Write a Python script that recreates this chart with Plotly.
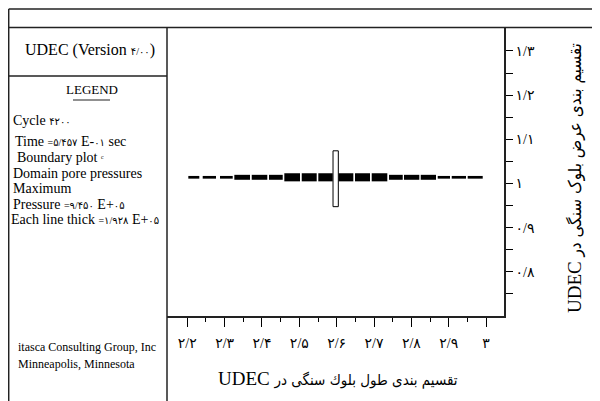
import plotly.graph_objects as go

# ---------------- data ----------------
# joint segments along the block (x start / x end), pore pressure (x1e5)
seg_x0 = [2.2027, 2.2412, 2.2876, 2.3259, 2.3725, 2.4188, 2.4598, 2.5064, 2.5508,
          2.6044, 2.6491, 2.6938, 2.7402, 2.7803, 2.8251, 2.8706, 2.9081, 2.9509]
seg_x1 = [2.2321, 2.2769, 2.3216, 2.3679, 2.4142, 2.4555, 2.5018, 2.5465, 2.5894,
          2.6446, 2.6893, 2.7356, 2.7769, 2.8213, 2.8660, 2.9035, 2.9464, 2.9911]
seg_pressure = [3.0, 3.0, 3.0, 5.5, 5.5, 5.5, 9.0, 9.0, 9.0,
                9.0, 9.0, 9.0, 5.5, 5.5, 5.5, 3.0, 3.0, 3.0]
joint_y = 1.014

# boundary box (x0, x1, y0, y1)
box_x = [2.5902, 2.6044]
box_y = [0.9475, 1.074]

x_tickvals = [2.2, 2.3, 2.4, 2.5, 2.6, 2.7, 2.8, 2.9, 3.0]
x_ticktext = ["۲/۲", "۲/۳", "۲/۴", "۲/۵", "۲/۶", "۲/۷", "۲/۸", "۲/۹", "۳"]
x_minor = [2.25, 2.35, 2.45, 2.55, 2.65, 2.75, 2.85, 2.95]
y_tickvals = [0.8, 0.9, 1.0, 1.1, 1.2, 1.3]
y_ticktext = ["۰/۸", "۰/۹", "۱", "۱/۱", "۱/۲", "۱/۳"]
y_minor = [0.75, 0.85, 0.95, 1.05, 1.15, 1.25]

x_title_fa = "تقسیم بندی طول بلوك سنگی در"
y_title_fa = "تقسیم بندی عرض بلوک سنگی در"
title_en = "UDEC"

# ---------------- layout geometry ----------------
OFF = 8                      # page offset of the figure in the window
W, H = 600 - OFF, 401 - OFF
# plot area in window pixels: x 167..504, y 28..316
L = 167 - OFF
R = W - (504 - OFF)
T = 28 - OFF
B = H - (316 - OFF)
PW, PH = W - L - R, H - T - B
px_per_pressure = 0.9

def px(x):   # window pixel x -> paper
    return (x - OFF - L) / PW

def py(y):   # window pixel y -> paper
    return (H - B - (y - OFF)) / PH

FONT = "Liberation Serif, Times New Roman, DejaVu Sans, serif"
FA_X = "font-family:DejaVu Sans Condensed, DejaVu Sans;font-size:15px"
FA_Y = "font-family:DejaVu Sans Condensed, DejaVu Sans;font-size:17px"

fig = go.Figure()
for x0, x1, p in zip(seg_x0, seg_x1, seg_pressure):
    fig.add_trace(go.Scatter(x=[x0, x1], y=[joint_y, joint_y], mode="lines",
                             line=dict(color="black", width=p * px_per_pressure),
                             hoverinfo="skip", showlegend=False))

shapes = []
shapes.append(dict(type="rect", xref="x", yref="y", x0=box_x[0], x1=box_x[1],
                   y0=box_y[0], y1=box_y[1], line=dict(color="black", width=1),
                   fillcolor="white"))

def line(x0, y0, x1, y1, w=1.5):
    shapes.append(dict(type="line", xref="paper", yref="paper",
                       x0=px(x0), y0=py(y0), x1=px(x1), y1=py(y1),
                       line=dict(color="#222222", width=w)))

line(8.7, 9, 600, 9)
line(8.7, 9, 8.7, 401)
line(8, 27.5, 600, 27.5)
line(167, 27.5, 167, 401)
line(8, 76, 167, 76)
line(73, 100, 110, 100, 1.2)

annotations = []

def text(x, y, s, size=14, anchor="left", angle=0):
    annotations.append(dict(xref="paper", yref="paper", x=px(x), y=py(y), text=s,
                            showarrow=False, xanchor=anchor, yanchor="middle",
                            textangle=angle,
                            font=dict(family=FONT, size=size, color="black")))

sm = "<span style='font-size:10px'>"
text(90, 50, "UDEC (Version " + sm + "۴/۰۰</span>)", 16, "center")
text(92, 89, "LEGEND", 13, "center")
text(11, 121, "Cycle " + sm + "۴۲۰۰</span>", 14)
text(13, 141, "Time " + sm + "=۵/۴۵۷</span> E-" + sm + "۰۱</span> sec", 14)
text(15, 157, "Boundary plot " + sm + "ᶜ</span>", 14)
text(11, 173, "Domain pore pressures", 14)
text(11, 188, "Maximum", 14)
text(11, 204, "Pressure " + sm + "=۹/۴۵۰</span> E+" + sm + "۰۵</span>", 14)
text(9, 219, "Each line thick " + sm + "=۱/۹۲۸</span> E+" + sm + "۰۵</span>", 14)
text(16, 347, "itasca Consulting Group, Inc", 12)
text(16, 364, "Minneapolis, Minnesota", 12)

# visual order: English word on the left, Persian run (right-to-left) after it
text(338, 378, title_en + " <span style='" + FA_X + "'>" + x_title_fa + "</span>",
     19, "center")
text(575, 178, title_en + " <span style='" + FA_Y + "'>" + y_title_fa + "</span>",
     19, "center", -90)

fig.update_layout(
    width=W, height=H, margin=dict(l=L, r=R, t=T, b=B, pad=0),
    paper_bgcolor="white", plot_bgcolor="white",
    shapes=shapes, annotations=annotations, showlegend=False,
    font=dict(family=FONT, color="black"),
    xaxis=dict(range=[2.1456, 3.0481], tickmode="array", tickvals=x_tickvals,
               ticktext=x_ticktext, ticks="outside", ticklen=9, tickwidth=1.3,
               tickcolor="black", showline=True, linecolor="#222222", linewidth=1.5,
               showgrid=False, zeroline=False, tickfont=dict(size=14, family=FONT),
               ticklabelstandoff=4,
               minor=dict(tickmode="array", tickvals=x_minor, ticks="outside",
                          ticklen=4, tickwidth=1.3, tickcolor="black", showgrid=False)),
    yaxis=dict(range=[0.7, 1.352], side="right", tickmode="array", tickvals=y_tickvals,
               ticktext=y_ticktext, ticks="outside", ticklen=7, tickwidth=1.3,
               tickcolor="black", showline=True, linecolor="#222222", linewidth=1.5,
               showgrid=False, zeroline=False, tickfont=dict(size=14, family=FONT),
               minor=dict(tickmode="array", tickvals=y_minor, ticks="outside",
                          ticklen=7, tickwidth=1.3, tickcolor="black", showgrid=False)),
)

fig.write_html("out.html")
